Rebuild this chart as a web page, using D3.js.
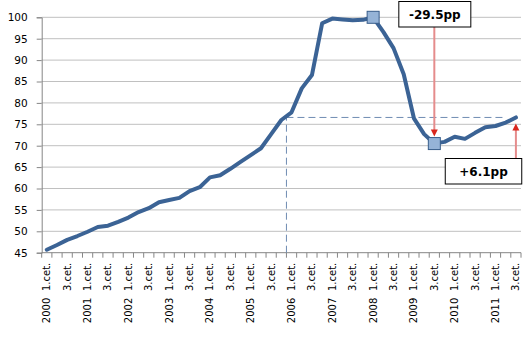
<!DOCTYPE html>
<html><head><meta charset="utf-8">
<script src="https://cdn.jsdelivr.net/npm/d3@7"></script>
<style>body{margin:0;background:#fff;}svg{display:block;font-family:"DejaVu Sans",Verdana,sans-serif;}</style>
</head><body><svg id="c" width="526" height="337"></svg>
<script>
const years = [2000,2001,2002,2003,2004,2005,2006,2007,2008,2009,2010,2011];
const quarters = ["1.cet.","2.cet.","3.cet.","4.cet."];
const values = [45.7,46.8,48.0,48.9,49.9,51.0,51.3,52.2,53.2,54.5,55.4,56.8,
  57.3,57.8,59.4,60.3,62.6,63.1,64.6,66.2,67.8,69.4,72.7,76.0,
  77.8,83.4,86.5,98.6,99.7,99.5,99.3,99.4,100.0,96.6,92.8,86.7,
  76.4,72.7,70.5,70.9,72.1,71.6,73.0,74.3,74.6,75.4,76.6];
const yTicks = [45,50,55,60,65,70,75,80,85,90,95,100];

const categories = [];
years.forEach(y => quarters.forEach(q => categories.push({year: y, q})));
categories.length = values.length;
const catKey = c => c.year + " " + c.q;

const svg = d3.select("#c");
const L = 41.7, R = 521, T = 17.3, B = 252.7;
const x = d3.scaleBand().domain(categories.map(catKey)).range([L, R]).padding(0);
const bw = x.bandwidth();
const cx = i => x(catKey(categories[i])) + bw / 2;
const y = d3.scaleLinear().domain([45, 100]).range([B, T]);

// gridlines
svg.append("g").selectAll("line").data(yTicks.filter(t => t > 45)).join("line")
  .attr("x1", L).attr("x2", R).attr("y1", d => y(d)).attr("y2", d => y(d))
  .attr("stroke", "#c0c0c0").attr("stroke-width", 1);

// y axis
const ya = svg.append("g").attr("transform", `translate(${L},0)`)
  .call(d3.axisLeft(y).tickValues(yTicks).tickSize(5).tickPadding(9));
ya.select(".domain").attr("stroke", "#868686");
ya.selectAll(".tick line").attr("stroke", "#868686");
ya.selectAll("text").attr("font-size", "10.5px").attr("fill", "#000")
  .attr("font-family", "DejaVu Sans, sans-serif");

// x axis
const xa = svg.append("g").attr("transform", `translate(0,${B})`);
xa.append("line").attr("x1", L).attr("x2", R).attr("y1", 0).attr("y2", 0).attr("stroke", "#868686");
xa.selectAll(".tk").data(d3.range(categories.length + 1)).join("line")
  .attr("x1", i => L + i * bw).attr("x2", i => L + i * bw)
  .attr("y1", 0).attr("y2", 5).attr("stroke", "#868686");
const labeled = categories.map((c, i) => ({c, i})).filter(d => d.i % 2 === 0);
xa.selectAll(".ql").data(labeled).join("text")
  .attr("transform", d => `translate(${cx(d.i)},10) rotate(-90)`)
  .attr("text-anchor", "end").attr("dy", "0.35em")
  .attr("font-size", "10px").attr("fill", "#000")
  .text(d => d.c.q);
xa.selectAll(".yl").data(labeled.filter(d => d.i % 4 === 0)).join("text")
  .attr("transform", d => `translate(${cx(d.i)},45) rotate(-90)`)
  .attr("text-anchor", "end").attr("dy", "0.35em")
  .attr("font-size", "10px").attr("fill", "#000")
  .text(d => d.c.year);

// reference dashed lines
const last = values.length - 1;
const peakI = values.indexOf(d3.max(values));
let troughI = peakI;
for (let i = peakI; i <= last; i++) if (values[i] < values[troughI]) troughI = i;
const refI = values.findIndex(v => v > values[last]);
const refX = x(catKey(categories[refI]));
svg.append("line").attr("x1", refX).attr("x2", refX).attr("y1", B).attr("y2", y(values[last]))
  .attr("stroke", "#6f8cb2").attr("stroke-dasharray", "7,4");
svg.append("line").attr("x1", refX).attr("x2", cx(last - 1)).attr("y1", y(values[last])).attr("y2", y(values[last]))
  .attr("stroke", "#6f8cb2").attr("stroke-dasharray", "7,4");

// line
svg.append("path").datum(values)
  .attr("d", d3.line().x((d, i) => cx(i)).y(d => y(d)))
  .attr("fill", "none").attr("stroke", "#3b6395").attr("stroke-width", 4)
  .attr("stroke-linejoin", "round").attr("stroke-linecap", "round");

// markers
[peakI, troughI].forEach(i => {
  svg.append("rect").attr("x", cx(i) - 6).attr("y", y(values[i]) - 6).attr("width", 12).attr("height", 12)
    .attr("fill", "#95b3d7").attr("stroke", "#385d8a").attr("stroke-width", 1);
});

// arrows
function arrow(xp, y0, yTip) {
  const dir = yTip > y0 ? 1 : -1;
  svg.append("line").attr("x1", xp).attr("x2", xp).attr("y1", y0).attr("y2", yTip - dir * 6)
    .attr("stroke", "#e58c8c").attr("stroke-width", 2);
  svg.append("path").attr("d", `M${xp - 3.5},${yTip - dir * 7}L${xp + 3.5},${yTip - dir * 7}L${xp},${yTip}Z`)
    .attr("fill", "#d9261c");
}
arrow(cx(troughI), 27, y(values[troughI]) - 7);
arrow(cx(last), 158, y(values[last]) + 6);

// boxes
function box(xc, yt, w, h, txt) {
  svg.append("rect").attr("x", xc - w / 2).attr("y", yt).attr("width", w).attr("height", h)
    .attr("fill", "#fff").attr("stroke", "#000").attr("stroke-width", 1);
  svg.append("text").attr("x", xc).attr("y", yt + h / 2).attr("dy", "0.36em")
    .attr("text-anchor", "middle").attr("font-weight", "bold").attr("font-size", "12px").text(txt);
}
const d1 = values[troughI] - values[peakI];
const d2 = values[last] - values[troughI];
box(cx(troughI) + 0.5, 1.5, 72, 25.5, (d1 < 0 ? "-" : "+") + Math.abs(d1).toFixed(1) + "pp");
box(483.5, 158.5, 76.5, 25.5, (d2 < 0 ? "-" : "+") + Math.abs(d2).toFixed(1) + "pp");
</script></body></html>
